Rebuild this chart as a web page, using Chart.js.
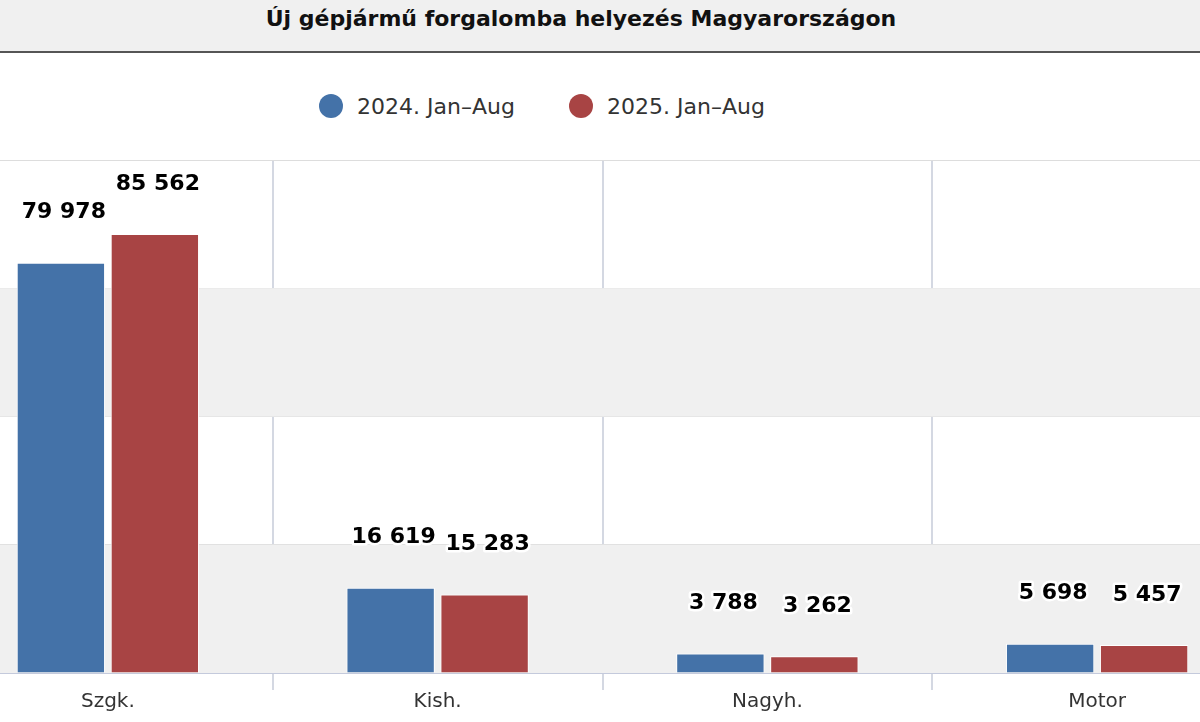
<!DOCTYPE html>
<html>
<head>
<meta charset="utf-8">
<script src="https://cdn.jsdelivr.net/npm/chart.js@4"></script>
<style>
  body { margin: 0; width: 1200px; height: 722px; overflow: hidden; background: #fff; position: relative; font-family: "DejaVu Sans", sans-serif; }
  #title { position: absolute; left: 0; top: 0; width: 1200px; height: 51px; background: #f0f0f0; border-bottom: 2px solid #555;
           font-weight: bold; font-size: 22px; color: #111; text-align: center; line-height: 38px; text-indent: -38px; }
  .leg { position: absolute; top: 92px; font-size: 22px; color: #333; line-height: 30px; }
  .dot { display: inline-block; width: 24px; height: 24px; border-radius: 50%; vertical-align: -4px; margin-right: 14px; }
  #wrap { position: absolute; left: -57px; top: 155px; width: 1319px; height: 567px; }
</style>
</head>
<body>
<div id="title">Új gépjármű forgalomba helyezés Magyarországon</div>
<div class="leg" style="left:319px"><span class="dot" style="background:#4472a8"></span>2024. Jan–Aug</div>
<div class="leg" style="left:569px"><span class="dot" style="background:#a84444"></span>2025. Jan–Aug</div>
<div id="wrap"><canvas id="chart"></canvas></div>
<script>
const categories = ["Szgk.", "Kish.", "Nagyh.", "Motor"];
const values2024 = [79978, 16619, 3788, 5698];
const values2025 = [85562, 15283, 3262, 5457];
const seriesNames = ["2024. Jan–Aug", "2025. Jan–Aug"];

const fmt = v => String(v).replace(/\B(?=(\d{3})+(?!\d))/g, " ");

/* alternating bands behind the bars */
const bands = {
  id: "bands",
  beforeDatasetsDraw(chart) {
    const { ctx, chartArea, scales } = chart;
    const y = scales.y;
    ctx.save();
    ctx.fillStyle = "#f0f0f0";
    for (let v = 0; v < 100000; v += 50000) {
      const top = y.getPixelForValue(v + 25000);
      const bot = y.getPixelForValue(v);
      ctx.fillRect(chartArea.left, top, chartArea.right - chartArea.left, bot - top);
    }
    ctx.restore();
  }
};

/* value labels above bars */
const valueLabels = {
  id: "valueLabels",
  afterDatasetsDraw(chart) {
    const ctx = chart.ctx;
    ctx.save();
    ctx.font = "bold 22px 'DejaVu Sans'";
    ctx.textAlign = "center";
    ctx.textBaseline = "middle";
    ctx.lineJoin = "round";
    chart.data.datasets.forEach((ds, i) => {
      chart.getDatasetMeta(i).data.forEach((bar, j) => {
        const t = fmt(ds.data[j]);
        ctx.lineWidth = 5;
        ctx.strokeStyle = "#fff";
        ctx.strokeText(t, bar.x + 3, bar.y - 50);
        ctx.fillStyle = "#000";
        ctx.fillText(t, bar.x + 3, bar.y - 50);
      });
    });
    ctx.restore();
  }
};

new Chart(document.getElementById("chart"), {
  type: "bar",
  data: {
    labels: categories,
    datasets: [
      { label: seriesNames[0], data: values2024, backgroundColor: "#4472a8", borderColor: "#fff", borderWidth: 1 },
      { label: seriesNames[1], data: values2025, backgroundColor: "#a84444", borderColor: "#fff", borderWidth: 1 }
    ]
  },
  options: {
    responsive: true,
    maintainAspectRatio: false,
    animation: false,
    layout: { padding: { top: 5, bottom: 8, left: 0, right: 0 } },
    categoryPercentage: 0.57,
    barPercentage: 0.94,
    plugins: { legend: { display: false }, tooltip: { enabled: false } },
    scales: {
      x: {
        grid: { color: "#d4d8e2", lineWidth: 2, tickLength: 17, offset: true },
        border: { color: "#c4cadc", width: 2 },
        ticks: { color: "#333", font: { family: "DejaVu Sans", size: 20 }, padding: 0 }
      },
      y: {
        min: 0, max: 100000,
        ticks: { stepSize: 25000, display: false },
        grid: { color: "#dddddd", lineWidth: 1, drawTicks: false },
        border: { display: false }
      }
    }
  },
  plugins: [bands, valueLabels]
});
</script>
</body>
</html>
